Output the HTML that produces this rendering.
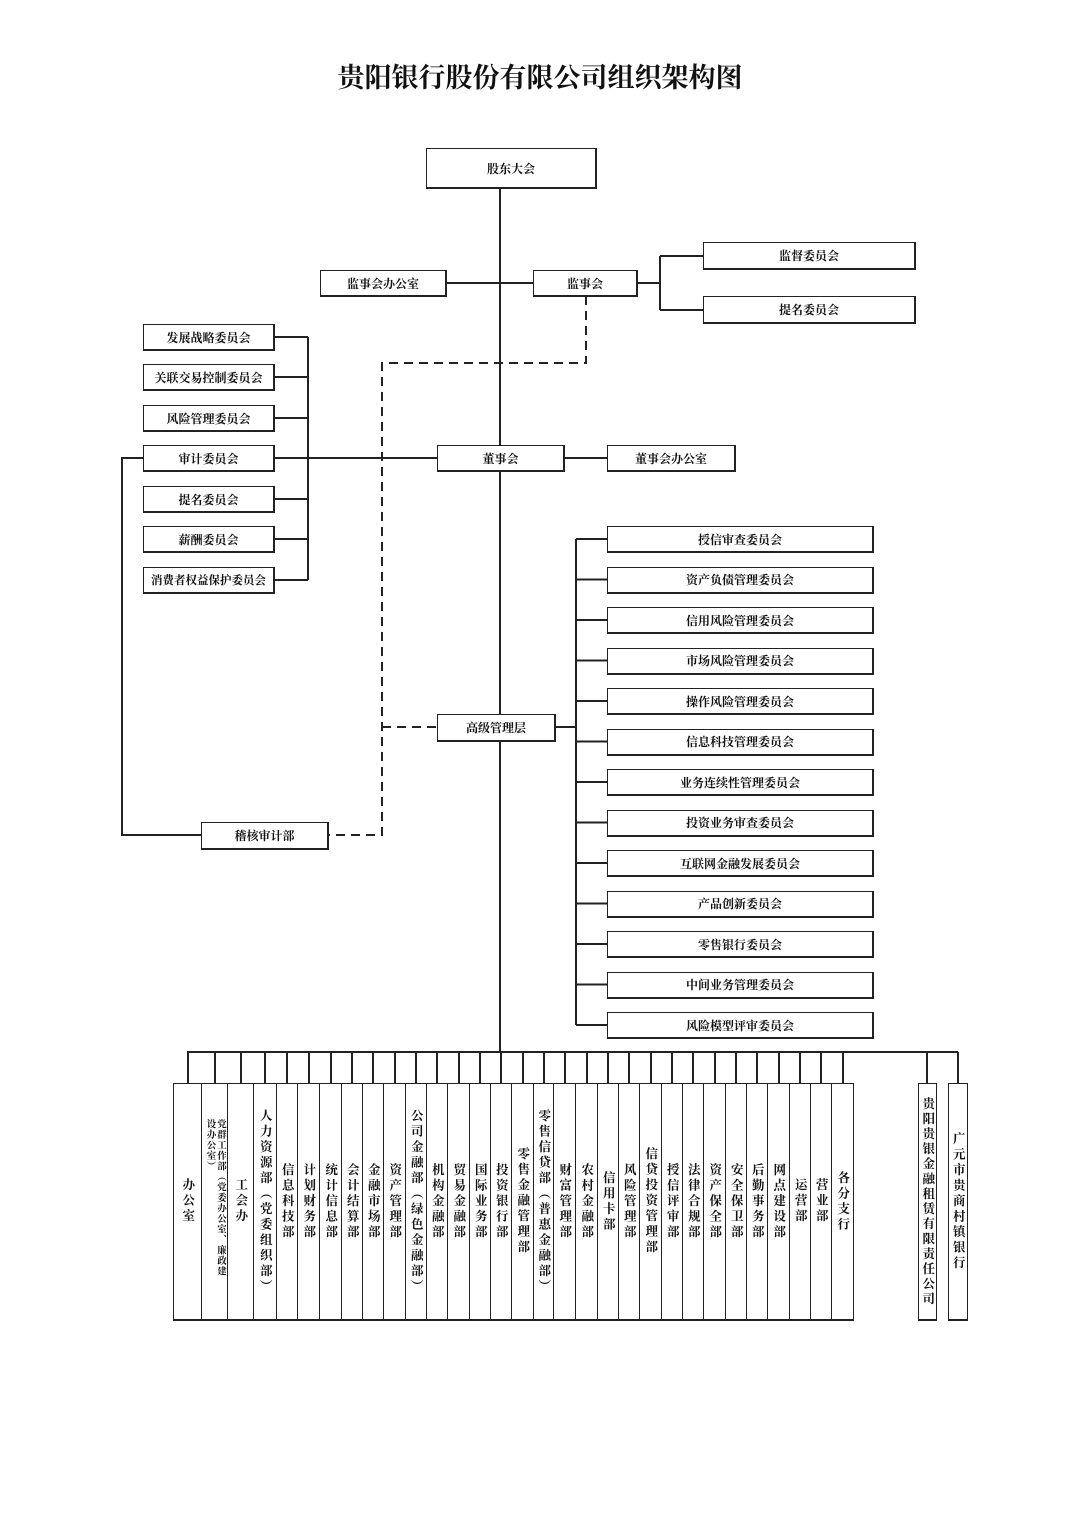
<!DOCTYPE html>
<html><head><meta charset="utf-8"><style>
body{margin:0;background:#fff;}
#c{position:relative;width:1080px;height:1527px;overflow:hidden;background:#fff;font-family:"Liberation Serif","Noto Serif CJK SC","Noto Sans CJK SC",serif;color:#111;}
.b{position:absolute;box-sizing:border-box;border:1.5px solid #222;border-bottom-width:2.5px;border-right-width:2px;display:flex;align-items:center;justify-content:center;font-size:12px;font-weight:bold;background:#fff;white-space:nowrap;}
.v{position:absolute;box-sizing:border-box;border:1.5px solid #222;border-bottom-width:2px;display:flex;align-items:center;justify-content:center;background:#fff;}
.v span{writing-mode:vertical-rl;font-size:12.5px;font-weight:bold;letter-spacing:3px;line-height:1;}
svg{position:absolute;left:0;top:0;}
</style></head><body><div id="c">
<div style="position:absolute;left:0;width:1080px;top:56px;text-align:center;font-size:27px;font-weight:bold;font-family:'Noto Serif CJK SC',serif;">贵阳银行股份有限公司组织架构图</div>
<svg width="1080" height="1527" stroke="#222" stroke-width="2" fill="none">
<line x1="500" y1="188" x2="500" y2="1052"/>
<line x1="447" y1="283" x2="533" y2="283"/>
<line x1="638" y1="283" x2="660" y2="283"/>
<line x1="660" y1="256" x2="660" y2="310"/>
<line x1="660" y1="256" x2="703" y2="256"/>
<line x1="660" y1="310" x2="703" y2="310"/>
<path d="M586 296 V363 H382 V835 H329 M382 727 H437" stroke-dasharray="9,6"/>
<line x1="275" y1="458" x2="437" y2="458"/>
<line x1="565" y1="458" x2="607" y2="458"/>
<line x1="308" y1="337" x2="308" y2="580"/>
<g>
<line x1="275" y1="337" x2="308" y2="337"/><line x1="275" y1="377" x2="308" y2="377"/><line x1="275" y1="418" x2="308" y2="418"/><line x1="275" y1="499" x2="308" y2="499"/><line x1="275" y1="539" x2="308" y2="539"/><line x1="275" y1="580" x2="308" y2="580"/>
</g>
<path d="M143 458 H122 V835 H201"/>
<line x1="556" y1="727" x2="576" y2="727"/>
<line x1="576" y1="539" x2="576" y2="1025"/>
<g id="rl"></g>
<line x1="187" y1="1052" x2="958" y2="1052"/>
<g id="drops"></g>
</svg>
<div class="b" style="left:426px;top:148px;width:171px;height:41px;">股东大会</div>
<div class="b" style="left:320px;top:270px;width:127px;height:27px;">监事会办公室</div>
<div class="b" style="left:533px;top:270px;width:105px;height:27px;">监事会</div>
<div class="b" style="left:703px;top:242px;width:213px;height:28px;">监督委员会</div>
<div class="b" style="left:703px;top:296px;width:213px;height:28px;">提名委员会</div>
<div class="b" style="left:143px;top:324px;width:132px;height:27px;">发展战略委员会</div>
<div class="b" style="left:143px;top:364px;width:132px;height:27px;">关联交易控制委员会</div>
<div class="b" style="left:143px;top:405px;width:132px;height:27px;">风险管理委员会</div>
<div class="b" style="left:143px;top:445px;width:132px;height:27px;">审计委员会</div>
<div class="b" style="left:143px;top:486px;width:132px;height:27px;">提名委员会</div>
<div class="b" style="left:143px;top:526px;width:132px;height:27px;">薪酬委员会</div>
<div class="b" style="left:143px;top:567px;width:132px;height:27px;font-size:11.5px;">消费者权益保护委员会</div>
<div class="b" style="left:437px;top:445px;width:128px;height:27px;">董事会</div>
<div class="b" style="left:607px;top:445px;width:129px;height:27px;">董事会办公室</div>
<div class="b" style="left:437px;top:714px;width:119px;height:28px;">高级管理层</div>
<div class="b" style="left:201px;top:822px;width:128px;height:28px;">稽核审计部</div>
<div id="rb"></div>
<div id="cols"></div>
<script>
var names=["授信审查委员会","资产负债管理委员会","信用风险管理委员会","市场风险管理委员会","操作风险管理委员会","信息科技管理委员会","业务连续性管理委员会","投资业务审查委员会","互联网金融发展委员会","产品创新委员会","零售银行委员会","中间业务管理委员会","风险模型评审委员会"];
var rb="",rl="";
names.forEach(function(n,i){var y=526+i*40.5;rb+='<div class="b" style="left:607px;top:'+y+'px;width:267px;height:27px;">'+n+'</div>';rl+='<line x1="576" y1="'+(y+13)+'" x2="607" y2="'+(y+13)+'"/>';});
document.getElementById("rb").innerHTML=rb;
var xs=[173,201,227,253,276,297,319,341,362,383,405,426,447,469,490,511,533,553,575,597,618,639,661,682,703,725,746,767,789,810,831,853];
var cn=["办公室","党群工作部（党委办公室、廉政建设办公室）","工会办","人力资源部（党委组织部）","信息科技部","计划财务部","统计信息部","会计结算部","金融市场部","资产管理部","公司金融部（绿色金融部）","机构金融部","贸易金融部","国际业务部","投资银行部","零售金融管理部","零售信贷部（普惠金融部）","财富管理部","农村金融部","信用卡部","风险管理部","信贷投资管理部","授信评审部","法律合规部","资产保全部","安全保卫部","后勤事务部","网点建设部","运营部","营业部","各分支行"];
var h="",d="";
function drop(cx){d+='<line x1="'+cx+'" y1="1052" x2="'+cx+'" y2="1083"/>';}
for(var i=0;i<31;i++){var l=xs[i],w=xs[i+1]-l+1;var sp=cn[i];
var st=i==1?'style="font-size:9.5px;letter-spacing:1px;max-height:165px;line-height:1.1;"':'';
h+='<div class="v" style="left:'+l+'px;top:1083px;width:'+w+'px;height:238px;"><span '+st+'>'+sp+'</span></div>';drop(Math.round(l+w/2));}
h+='<div class="v" style="left:918px;top:1083px;width:19px;height:238px;"><span style="letter-spacing:2.5px;">贵阳贵银金融租赁有限责任公司</span></div>';
h+='<div class="v" style="left:948px;top:1083px;width:20px;height:238px;"><span>广元市贵商村镇银行</span></div>';
drop(927);drop(958);
document.getElementById("cols").innerHTML=h;
document.getElementById("rl").outerHTML=rl;
document.getElementById("drops").outerHTML=d;
</script>
</div></body></html>
